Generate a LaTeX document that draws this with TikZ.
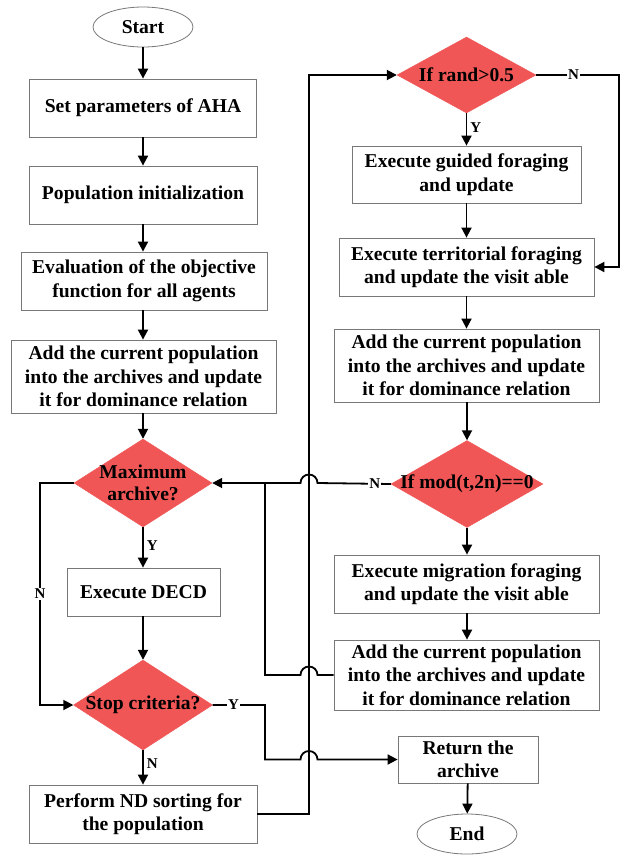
\documentclass[tikz,border=0pt]{standalone}
\usepackage{fontspec}
\setmainfont{Liberation Serif}
\usetikzlibrary{shapes.geometric,arrows.meta}
\definecolor{decred}{RGB}{240,86,86}
\definecolor{boxgray}{RGB}{120,120,120}
\begin{document}
\begin{tikzpicture}[x=1pt,y=-1pt,
  every node/.style={font=\fontsize{19.6}{23.5}\selectfont\bfseries, align=center},
  procbox/.style={draw=boxgray, line width=0.8pt, rectangle, inner sep=0pt},
  term/.style={draw=boxgray, line width=0.8pt, ellipse, inner sep=0pt, minimum width=100pt, minimum height=40pt},
  decision/.style={fill=decred, draw=decred, diamond, inner sep=0pt},
  flow/.style={line width=1.8pt, -{Triangle[length=10pt,width=10pt]}},
  wire/.style={line width=1.8pt},
  yn/.style={font=\fontsize{15}{15}\selectfont\bfseries, fill=white, inner sep=1pt}
]
\useasboundingbox (0,0) rectangle (630,855);

% left column
\node[term] (start) at (143,27) {Start};
\node[procbox, minimum width=227pt, minimum height=58pt] (setp) at (143,108) {Set parameters of AHA};
\node[procbox, minimum width=228pt, minimum height=58pt] (pop) at (143,195) {Population initialization};
\node[procbox, minimum width=246pt, minimum height=58pt] (eval) at (144,281) {Evaluation of the objective\\function for all agents};
\node[procbox, minimum width=265pt, minimum height=73pt] (addL) at (143.5,376.5) {Add the current population\\into the archives and update\\it for dominance relation};
\node[decision, minimum width=138pt, minimum height=88pt,
      label={center:Maximum\\[-1pt]archive?}] (dmax) at (143,483) {};
\node[procbox, minimum width=153pt, minimum height=48pt] (decd) at (143.5,592) {Execute DECD};
\node[decision, minimum width=139pt, minimum height=90pt,
      label={center:Stop criteria?}] (dstop) at (143,705) {};
\node[procbox, minimum width=228pt, minimum height=58pt] (nd) at (143,814) {Perform ND sorting for\\the population};

% right column
\node[decision, minimum width=139pt, minimum height=76pt,
      label={center:If rand>0.5}] (drand) at (466.5,75) {};
\node[procbox, minimum width=229pt, minimum height=57pt] (guided) at (466.5,174.5) {Execute guided foraging\\and update};
\node[procbox, minimum width=255pt, minimum height=58pt] (terr) at (466.5,267) {Execute territorial foraging\\and update the visit able};
\node[procbox, minimum width=265pt, minimum height=73pt] (addR) at (466.5,365.5) {Add the current population\\into the archives and update\\it for dominance relation};
\node[decision, minimum width=152pt, minimum height=87pt,
      label={center:If mod(t,2n)==0}] (dmod) at (467,484) {};
\node[procbox, minimum width=265pt, minimum height=58pt] (mig) at (466.5,584) {Execute migration foraging\\and update the visit able};
\node[procbox, minimum width=265pt, minimum height=70pt] (addB) at (466.5,675) {Add the current population\\into the archives and update\\it for dominance relation};
\node[procbox, minimum width=140pt, minimum height=47pt] (ret) at (468,759.5) {Return the\\archive};
\node[term] (finish) at (467,834) {End};

% junction and corner points
\coordinate (jA) at (265,483);
\coordinate (jB) at (265,675);
\coordinate (up) at (309,75);

% main left flow
\draw[flow] (start) -- (setp);
\draw[flow] (setp) -- (pop);
\draw[flow] (pop) -- (eval.north -| pop);
\draw[flow] (eval.south -| pop) -- (addL.north -| pop);
\draw[flow] (addL.south -| dmax) -- (dmax.north);
\draw[flow] (dmax.south) -- node[yn, right, fill=none, xshift=2pt, pos=0.45] {Y} (decd.north -| dmax);
\draw[flow] (decd.south -| dmax) -- (dstop.north);
\draw[flow] (dstop.south) -- node[yn, right, fill=none, xshift=2pt, pos=0.4] {N} (nd.north -| dstop);

% Maximum archive? -- N branch
\draw[flow] (dmax.west) -- (40,483) -- node[yn] {N} (40,705) -- (dstop.west);

% ND sorting back to the top of the loop
\draw[flow] (nd.east) -- (309,814) -- (up) -- (drand.west);

% right flow
\draw[flow] (drand.south) -- node[yn, right, fill=none, xshift=2pt, pos=0.45] {Y} (guided.north -| drand);
\draw[flow] (guided.south -| drand) -- (terr.north -| drand);
\draw[flow] (terr.south -| drand) -- (addR.north -| drand);
\draw[flow] (addR.south -| dmod) -- (dmod.north);
\draw[flow] (dmod.south) -- (mig.north -| dmod);
\draw[flow] (mig.south -| dmod) -- (addB.north -| dmod);
\draw[flow] (drand.east) -- node[yn, pos=0.45] {N} (619,75) -- (619,267) -- (terr.east);

% If mod -- N branch, hopping over the loop line
\draw[flow] (dmod.west) -- node[yn, pos=0.22] {N} (317.5,483)
   arc[start angle=0, end angle=180, radius=8.5pt] -- (dmax.east);
\draw[wire] (addB.west |- jB) -- (317.5,675)
   arc[start angle=0, end angle=180, radius=8.5pt] -- (jB) -- (jA);

% Stop criteria? -- Y branch to the result
\draw[flow] (dstop.east) -- node[yn, pos=0.4] {Y} (265,705) -- (265,759.5) -- (300.5,759.5)
   arc[start angle=180, end angle=0, radius=8.5pt] -- (ret.west);
\draw[flow] (ret) -- (finish);
\end{tikzpicture}
\end{document}
